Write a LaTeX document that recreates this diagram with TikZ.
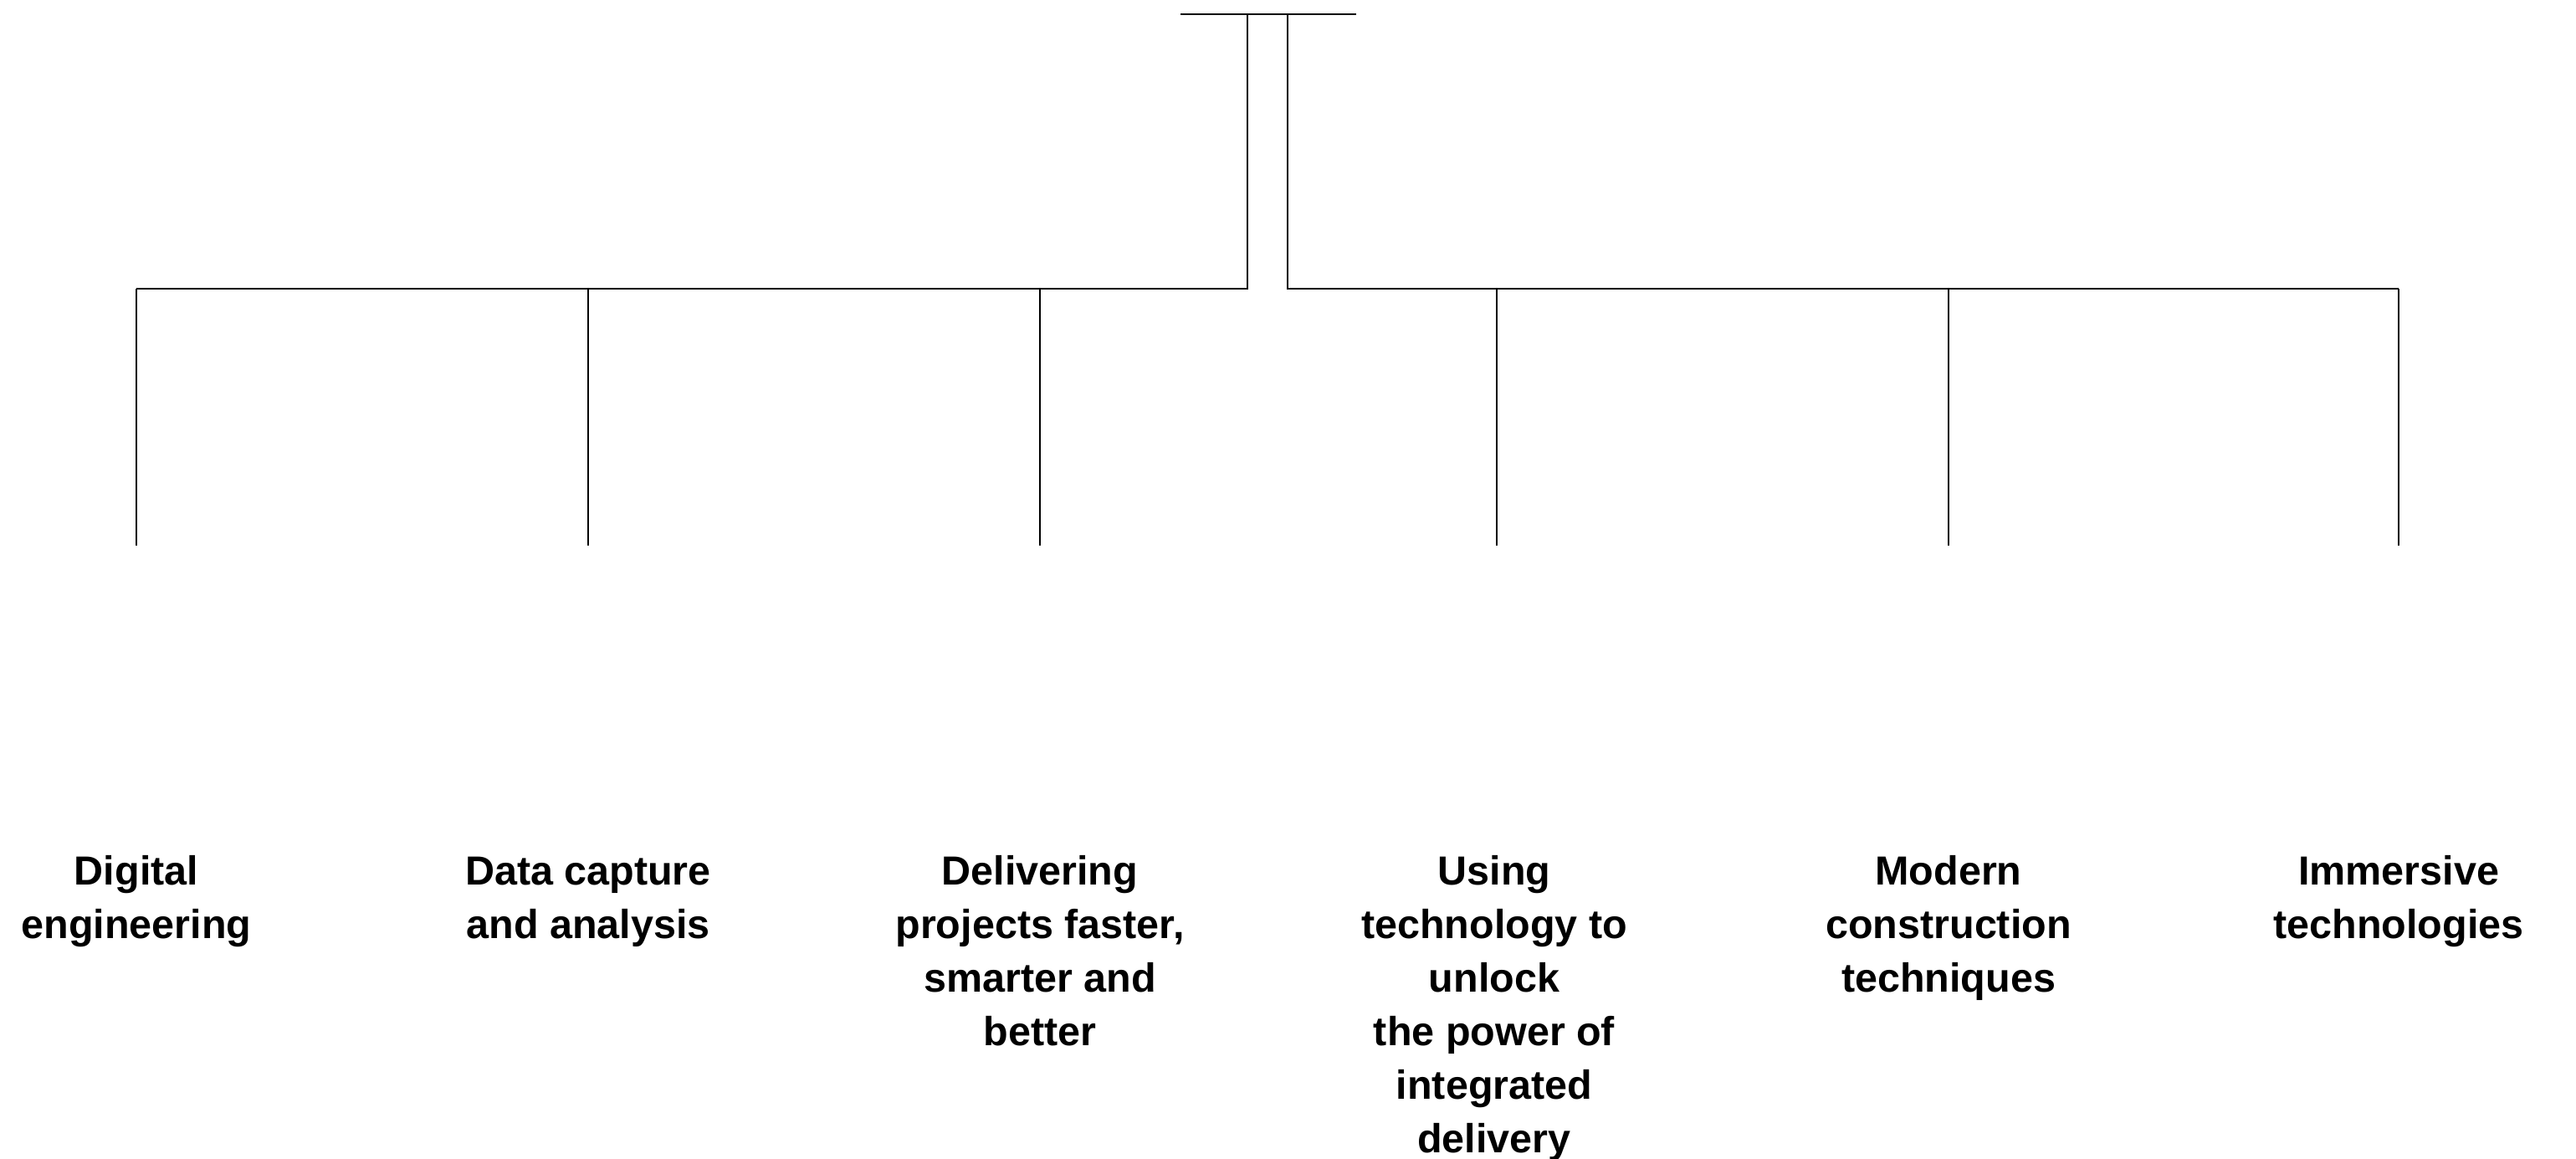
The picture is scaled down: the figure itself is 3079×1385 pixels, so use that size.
\documentclass[tikz,border=0pt]{standalone}
\usepackage{fontspec}
\setmainfont{Liberation Sans}

\begin{document}
\begin{tikzpicture}[x=0.1mm, y=-0.1mm, line width=0.6pt,
  every node/.style = {shape=rectangle, align=center, inner sep=0pt,
    anchor=north, execute at begin node=\strut,
    font=\fontsize{13.8}{18.2}\selectfont\bfseries}]
  \useasboundingbox (0,0) rectangle (3079,1385);
  % top bar and the two forks
  \coordinate (topl) at (1411,17);
  \coordinate (topr) at (1621,17);
  \coordinate (forkl) at (1491,17);
  \coordinate (forkr) at (1539,17);
  \coordinate (bendl) at (1491,345);
  \coordinate (bendr) at (1539,345);
  \coordinate (leg1) at (163,345);
  \coordinate (leg2) at (703,345);
  \coordinate (leg3) at (1243,345);
  \coordinate (leg4) at (1789,345);
  \coordinate (leg5) at (2329,345);
  \coordinate (leg6) at (2867,345);
  \coordinate (end1) at (163,652);
  \coordinate (end2) at (703,652);
  \coordinate (end3) at (1243,652);
  \coordinate (end4) at (1789,652);
  \coordinate (end5) at (2329,652);
  \coordinate (end6) at (2867,652);
  \draw (topl) -- (topr);
  \draw (forkl) -- (bendl) -- (leg1);
  \draw (forkr) -- (bendr) -- (leg6);
  \foreach \i in {1,...,6}
    \draw (leg\i) -- (end\i);
  % labels
  \node (digital) at (163,1021) {Digital\\engineering};
  \node (data) at (703,1023) {Data capture\\and analysis};
  \node (faster) at (1243,1021) {Delivering\\projects faster,\\smarter and\\better};
  \node (unlock) at (1786,1021) {Using\\technology to\\unlock\\the power of\\integrated\\delivery};
  \node (modern) at (2329,1021) {Modern\\construction\\techniques};
  \node (immersive) at (2867,1021) {Immersive\\technologies};
\end{tikzpicture}
\end{document}
